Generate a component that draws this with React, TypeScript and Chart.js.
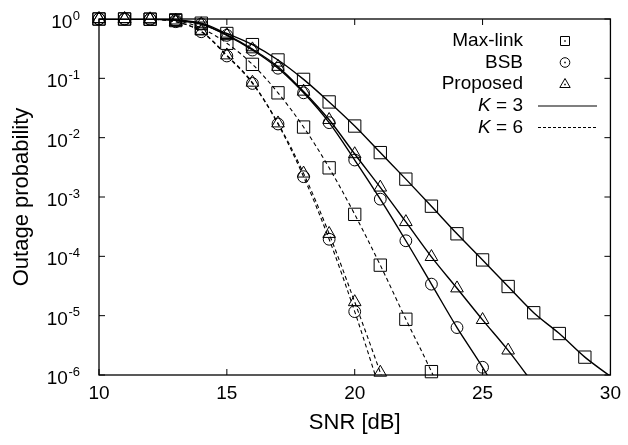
import React, { useEffect, useRef } from 'react';
import { Chart, registerables } from 'chart.js';

Chart.register(...registerables);

// ---------- data ----------
const snrDb = [10, 11, 12, 13, 14, 15, 16, 17, 18, 19, 20, 21, 22, 23, 24, 25, 26, 27, 28, 29, 30];

const maxLinkK3 = [1, 1, 0.995, 0.97, 0.85, 0.57, 0.37, 0.204, 0.096, 0.040, 0.0157, 5.6e-3, 2.0e-3, 7.0e-4, 2.4e-4, 8.7e-5, 3.1e-5, 1.12e-5, 5.0e-6, 2.0e-6, 9.5e-7];
const bsbK3 = [1, 1, 0.995, 0.95, 0.82, 0.53, 0.30, 0.148, 0.057, 0.0179, 4.2e-3, 9.2e-4, 1.83e-4, 3.4e-5, 6.3e-6, 1.35e-6, 2.4e-7, null, null, null, null];
const proposedK3 = [1, 1, 0.995, 0.95, 0.82, 0.54, 0.31, 0.157, 0.060, 0.020, 5.3e-3, 1.45e-3, 3.8e-4, 9.8e-5, 2.9e-5, 8.5e-6, 2.6e-6, 7.0e-7, null, null, null];
const maxLinkK6 = [1, 1, 0.99, 0.94, 0.70, 0.39, 0.172, 0.057, 0.0151, 3.1e-3, 5.1e-4, 7.1e-5, 8.7e-6, 1.14e-6, 1.2e-7, null, null, null, null, null, null];
const bsbK6 = [1, 1, 0.99, 0.90, 0.61, 0.238, 0.082, 0.017, 2.2e-3, 1.94e-4, 1.17e-5, 5.4e-7, null, null, null, null, null, null, null, null, null];
const proposedK6 = [1, 1, 0.99, 0.90, 0.62, 0.245, 0.085, 0.0175, 2.5e-3, 2.4e-4, 1.7e-5, 1.1e-6, 6e-8, null, null, null, null, null, null, null, null];

const xTickValues = [10, 15, 20, 25, 30];
const yExponents = [0, -1, -2, -3, -4, -5, -6];
const schemeLabels = ['Max-link', 'BSB', 'Proposed'];
const kLabels = ['3', '6'];
const xTitle = 'SNR [dB]';
const yTitle = 'Outage probability';

const FONT = "'Liberation Sans', Arial, Helvetica, sans-serif";
const BLACK = '#000';
const Y_MIN = 1e-6;

type Pt = { x: number; y: number };
const toPoints = (vals: (number | null)[]): Pt[] =>
  snrDb.map((x, i) => ({ x, y: vals[i] as number })).filter((p) => p.y !== null && p.y !== undefined);

const seriesList = [
  { values: maxLinkK3, marker: 'rect', dashed: false },
  { values: bsbK3, marker: 'circle', dashed: false },
  { values: proposedK3, marker: 'triangle', dashed: false },
  { values: maxLinkK6, marker: 'rect', dashed: true },
  { values: bsbK6, marker: 'circle', dashed: true },
  { values: proposedK6, marker: 'triangle', dashed: true },
];

const markerRadius: Record<string, number> = { rect: 8.7, circle: 5.9, triangle: 7.3 };

function drawLegendMarker(ctx: CanvasRenderingContext2D, kind: string, x: number, y: number) {
  ctx.save();
  ctx.strokeStyle = BLACK;
  ctx.lineWidth = 1;
  ctx.beginPath();
  if (kind === 'rect') {
    ctx.rect(x - 4.5, y - 4.5, 9, 9);
  } else if (kind === 'circle') {
    ctx.arc(x, y, 4.8, 0, Math.PI * 2);
  } else {
    ctx.moveTo(x, y - 5.5);
    ctx.lineTo(x + 5.2, y + 3.5);
    ctx.lineTo(x - 5.2, y + 3.5);
    ctx.closePath();
  }
  ctx.stroke();
  ctx.fillStyle = BLACK;
  ctx.fillRect(x - 0.75, y - 0.75 + (kind === 'triangle' ? 0.5 : 0), 1.5, 1.5);
  ctx.restore();
}

const framePlugin = {
  id: 'gnuplotFrame',
  afterDraw(chart: any) {
    const ctx: CanvasRenderingContext2D = chart.ctx;
    const { left, right, top, bottom } = chart.chartArea;
    const xs = chart.scales.x;
    const ys = chart.scales.y;
    ctx.save();
    // frame
    ctx.strokeStyle = BLACK;
    ctx.lineWidth = 1.3;
    ctx.setLineDash([]);
    ctx.strokeRect(left, top, right - left, bottom - top);
    // inward ticks
    ctx.lineWidth = 1;
    const tl = 6;
    ctx.beginPath();
    xTickValues.forEach((v) => {
      const px = xs.getPixelForValue(v);
      ctx.moveTo(px, bottom);
      ctx.lineTo(px, bottom - tl);
      ctx.moveTo(px, top);
      ctx.lineTo(px, top + tl);
    });
    yExponents.forEach((e) => {
      const py = ys.getPixelForValue(Math.pow(10, e));
      ctx.moveTo(left, py);
      ctx.lineTo(left + tl, py);
      ctx.moveTo(right, py);
      ctx.lineTo(right - tl, py);
    });
    ctx.stroke();

    // y tick labels 10^e
    ctx.fillStyle = BLACK;
    const labelRight = 80;
    yExponents.forEach((e) => {
      const py = ys.getPixelForValue(Math.pow(10, e));
      const expText = e === 0 ? '0' : '-' + String(-e);
      ctx.font = `13px ${FONT}`;
      const ew = ctx.measureText(expText).width;
      ctx.textAlign = 'left';
      ctx.textBaseline = 'alphabetic';
      ctx.fillText(expText, labelRight - ew, py + 0.5);
      ctx.font = `19px ${FONT}`;
      ctx.textAlign = 'right';
      ctx.fillText('10', labelRight - ew - 0.5, py + 9);
    });

    // legend
    const textRight = 523;
    const symX = 565;
    const rows = [41, 62.5, 84, 106, 127.5];
    ctx.textBaseline = 'middle';
    ctx.font = `19px ${FONT}`;
    schemeLabels.forEach((lab, i) => {
      ctx.textAlign = 'right';
      ctx.fillText(lab, textRight, rows[i]);
      drawLegendMarker(ctx, seriesList[i].marker, symX, rows[i]);
    });
    kLabels.forEach((k, j) => {
      const y = rows[3 + j];
      ctx.font = `19px ${FONT}`;
      const rest = ' = ' + k;
      const rw = ctx.measureText(rest).width;
      ctx.textAlign = 'right';
      ctx.fillText(rest, textRight, y);
      ctx.font = `italic 19px ${FONT}`;
      ctx.fillText('K', textRight - rw, y);
      ctx.beginPath();
      ctx.lineWidth = 1.2;
      ctx.setLineDash(j === 0 ? [] : [3, 2]);
      ctx.moveTo(538, y);
      ctx.lineTo(597, y);
      ctx.stroke();
      ctx.setLineDash([]);
    });
    ctx.restore();
  },
};

export default function App() {
  const canvasRef = useRef<HTMLCanvasElement | null>(null);

  useEffect(() => {
    document.body.style.margin = '0';
    const canvas = canvasRef.current;
    if (!canvas) return;

    const datasets: any[] = [];
    seriesList.forEach((s) => {
      const pts = toPoints(s.values);
      datasets.push({
        data: pts,
        borderColor: BLACK,
        borderWidth: s.dashed ? 1.1 : 1.4,
        borderDash: s.dashed ? [4, 3] : [],
        pointRadius: 0,
        fill: false,
        cubicInterpolationMode: 'monotone',
      });
      datasets.push({
        data: pts.filter((p) => p.y >= Y_MIN),
        showLine: false,
        pointStyle: s.marker,
        pointRadius: markerRadius[s.marker],
        pointBorderColor: BLACK,
        pointBackgroundColor: 'rgba(0,0,0,0)',
        pointBorderWidth: 1,
        clip: false,
      });
    });

    const chart = new Chart(canvas, {
      type: 'line',
      data: { datasets },
      options: {
        animation: false,
        responsive: false,
        events: [],
        layout: { padding: { left: 0, right: 17, top: 19, bottom: 0 } },
        plugins: { legend: { display: false }, tooltip: { enabled: false } },
        scales: {
          x: {
            type: 'linear',
            min: 10,
            max: 30,
            position: 'bottom',
            grid: { display: false, drawTicks: false },
            border: { display: false },
            ticks: {
              stepSize: 5,
              autoSkip: false,
              maxRotation: 0,
              padding: 7,
              color: BLACK,
              font: { family: FONT, size: 19 },
              callback: (v: any) => String(v),
            },
            title: {
              display: true,
              text: xTitle,
              color: BLACK,
              font: { family: FONT, size: 22 },
              padding: { top: 0, bottom: 9 },
            },
            afterFit: (s: any) => {
              s.height = 70;
            },
          },
          y: {
            type: 'logarithmic',
            min: Y_MIN,
            max: 1,
            position: 'left',
            grid: { display: false, drawTicks: false },
            border: { display: false },
            ticks: { display: false },
            title: {
              display: true,
              text: yTitle,
              color: BLACK,
              font: { family: FONT, size: 22 },
              padding: { top: 9, bottom: 0 },
            },
            afterFit: (s: any) => {
              s.width = 99;
            },
          },
        },
      } as any,
      plugins: [framePlugin],
    });

    return () => chart.destroy();
  }, []);

  return (
    <div style={{ position: 'absolute', left: 0, top: 0, width: 628, height: 445, background: '#fff' }}>
      <canvas ref={canvasRef} width={628} height={445} style={{ display: 'block' }} />
    </div>
  );
}
